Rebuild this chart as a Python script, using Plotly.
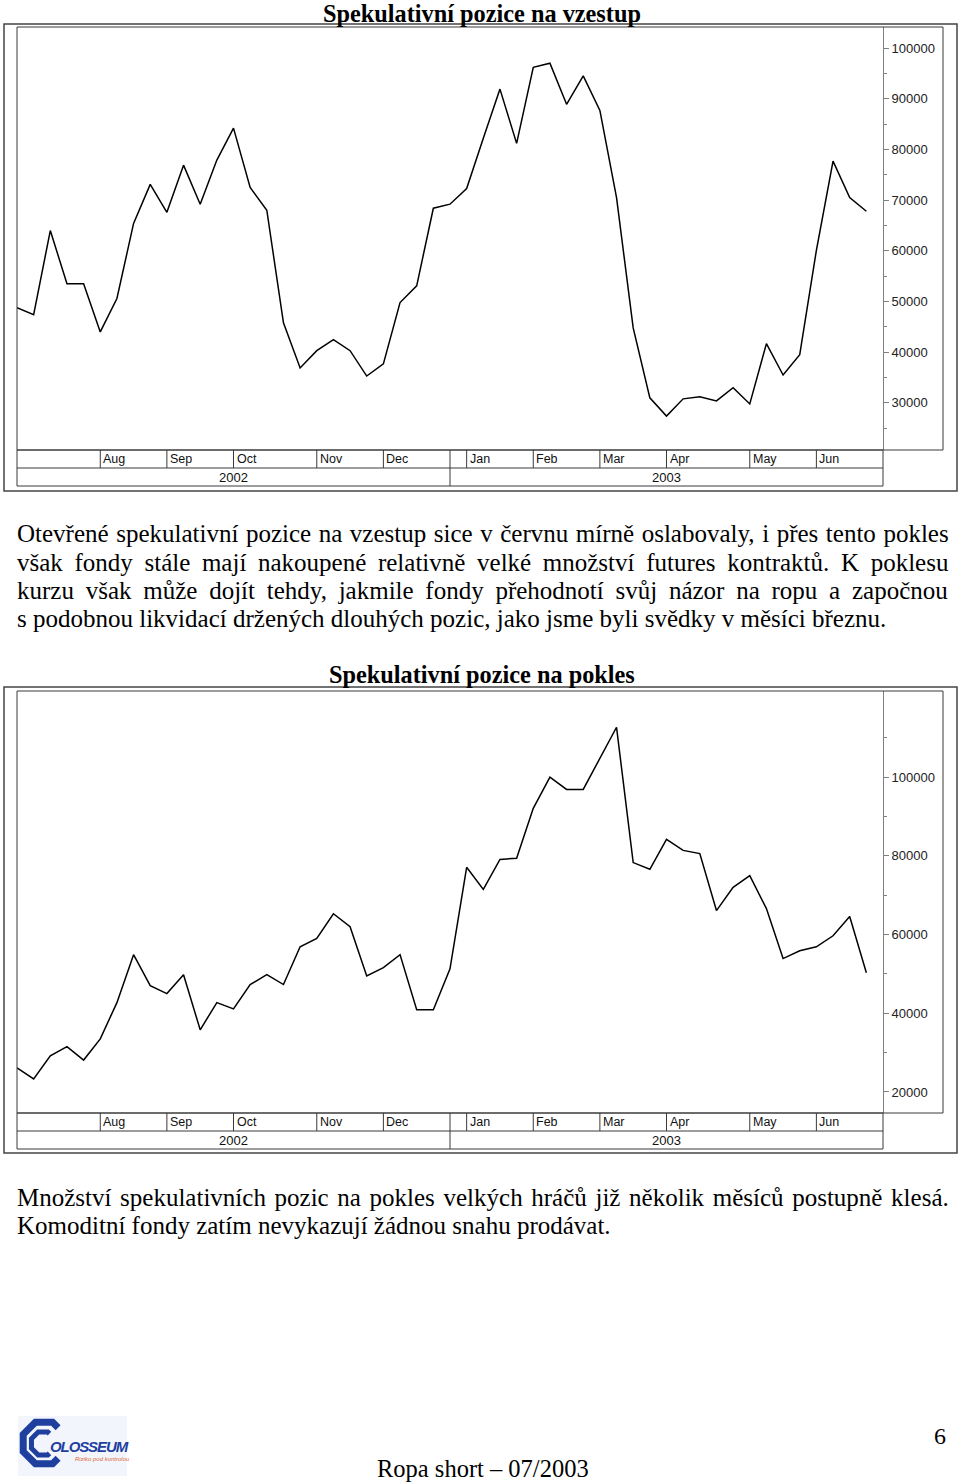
import math
import pandas as pd
import plotly.graph_objects as go

W, H = 960, 1482

# ---------------- data ----------------
weeks = pd.date_range("2002-07-02", periods=52, freq="7D")

long_positions = [48800, 47400, 64000, 53500, 53500, 44000, 50600, 65400, 73100, 67600,
                  76900, 69200, 77900, 84200, 72500, 68000, 45800, 36900, 40300, 42500,
                  40300, 35300, 37700, 49800, 53100, 68400, 69200, 72300, 82200, 91900,
                  81200, 96200, 97000, 88900, 94500, 87700, 70500, 44800, 31000, 27400,
                  30800, 31200, 30400, 33000, 29800, 41700, 35500, 39500, 60100, 77700,
                  70500, 67800]

short_positions = [26100, 23300, 29200, 31500, 28100, 33500, 42700, 54900, 47000, 45000,
                   49800, 35800, 42700, 41100, 47300, 49800, 47300, 56900, 59000, 65300,
                   62000, 49500, 51600, 54900, 40900, 40900, 51300, 77100, 71500, 79100,
                   79400, 92100, 100000, 96900, 96900, 104800, 112700, 78300, 76600, 84200,
                   81400, 80600, 66100, 72000, 75000, 66600, 53900, 55900, 56900, 59700,
                   64600, 50300]

month_labels = ["Aug", "Sep", "Oct", "Nov", "Dec", "Jan", "Feb", "Mar", "Apr", "May", "Jun"]
year_labels = ["2002", "2003"]
year_split = pd.Timestamp("2002-12-31")

ticks_long = [30000, 40000, 50000, 60000, 70000, 80000, 90000, 100000]
minor_long = [25000, 35000, 45000, 55000, 65000, 75000, 85000, 95000]
ticks_short = [20000, 40000, 60000, 80000, 100000]
minor_short = [30000, 50000, 70000, 90000, 110000]

title_long = "Spekulativní pozice na vzestup"
title_short = "Spekulativní pozice na pokles"

para1 = [
    "Otevřené spekulativní pozice na vzestup sice v červnu mírně oslabovaly, i přes tento pokles",
    "však fondy stále mají nakoupené relativně velké množství futures kontraktů. K poklesu",
    "kurzu však může dojít tehdy, jakmile fondy přehodnotí svůj názor na ropu a započnou",
    "s podobnou likvidací držených dlouhých pozic, jako jsme byli svědky v měsíci březnu.",
]
para2 = [
    "Množství spekulativních pozic na pokles velkých hráčů již několik měsíců postupně klesá.",
    "Komoditní fondy zatím nevykazují žádnou snahu prodávat.",
]
# extra word spacing (px) used to justify full lines
para1_spacing = [1.3, 5.4, 5.5, 0]
para2_spacing = [2.4, 0]

footer_text = "Ropa short – 07/2003"
page_number = "6"
logo_name = "OLOSSEUM"
logo_motto = "Riziko pod kontrolou"

# ---------------- helpers ----------------
def fx(px):
    return px / W


def fy(py):
    return 1 - py / H


x_start = weeks[0]
x_end = weeks[0] + pd.Timedelta(weeks=52)
month_starts = []
seen = set()
for d in weeks:
    key = (d.year, d.month)
    if key not in seen:
        seen.add(key)
        month_starts.append(d)
month_starts = month_starts[1:]  # first (July) segment carries no label

shapes = []
annotations = []
FRAME = "#3a3a3a"


def rect(x0, y0, x1, y1, color=FRAME, width=1, fill=None):
    shapes.append(dict(type="rect", xref="paper", yref="paper",
                       x0=fx(x0), x1=fx(x1), y0=fy(y0), y1=fy(y1),
                       line=dict(color=color, width=width),
                       fillcolor=fill if fill else "rgba(0,0,0,0)", layer="above"))


def hline(x0, x1, y, color=FRAME, width=1):
    shapes.append(dict(type="line", xref="paper", yref="paper",
                       x0=fx(x0), x1=fx(x1), y0=fy(y), y1=fy(y),
                       line=dict(color=color, width=width), layer="above"))


def chart_frame(xname, top_outer, top_inner, plot_bottom, bottom_outer):
    row_mid = plot_bottom + 18
    row_bot = plot_bottom + 36
    rect(4, top_outer, 957, bottom_outer, color="#444", width=1.5)
    rect(17, top_inner, 943, plot_bottom, color=FRAME, width=1)
    # time-axis boxes
    rect(17, plot_bottom, 883, row_bot, color=FRAME, width=1)
    hline(17, 883, row_mid)
    for d, lab in zip(month_starts, month_labels):
        shapes.append(dict(type="line", xref=xname, yref="paper", x0=d, x1=d,
                           y0=fy(plot_bottom), y1=fy(row_mid),
                           line=dict(color=FRAME, width=1), layer="above"))
        annotations.append(dict(x=d, xref=xname, y=fy((plot_bottom + row_mid) / 2), yref="paper",
                                text=lab, showarrow=False, xanchor="left", yanchor="middle",
                                xshift=1,
                                font=dict(family="Liberation Sans, Arial", size=12.5, color="#111")))
    shapes.append(dict(type="line", xref=xname, yref="paper", x0=year_split, x1=year_split,
                       y0=fy(plot_bottom), y1=fy(row_bot),
                       line=dict(color=FRAME, width=1), layer="above"))
    mids = [x_start + (year_split - x_start) / 2, year_split + (x_end - year_split) / 2]
    for m, lab in zip(mids, year_labels):
        annotations.append(dict(x=m, xref=xname, y=fy((row_mid + row_bot) / 2), yref="paper",
                                text=lab, showarrow=False, xanchor="center", yanchor="middle",
                                font=dict(family="Liberation Sans, Arial", size=13, color="#111")))


chart_frame("x", 24, 27, 450, 491)
chart_frame("x2", 687, 691, 1113, 1153)

# titles
SERIF = "Liberation Serif, Times New Roman, serif"
for t, y in [(title_long, 13.5), (title_short, 674)]:
    annotations.append(dict(x=fx(481.5), y=fy(y), xref="paper", yref="paper", text="<b>" + t + "</b>",
                            showarrow=False, xanchor="center", yanchor="middle",
                            font=dict(family=SERIF, size=24.3, color="black")))


def text_line(line, x, y, spacing, size=25):
    txt = line if not spacing else f'<span style="word-spacing:{spacing}px">{line}</span>'
    annotations.append(dict(x=fx(x), y=fy(y), xref="paper", yref="paper", text=txt,
                            showarrow=False, xanchor="left", yanchor="middle",
                            font=dict(family=SERIF, size=size, color="black")))


for i, (line, sp) in enumerate(zip(para1, para1_spacing)):
    text_line(line, 15, 534 + 28 * i, sp)
for i, (line, sp) in enumerate(zip(para2, para2_spacing)):
    text_line(line, 15, 1197 + 28 * i, sp)

# footer
annotations.append(dict(x=fx(375), y=fy(1468), xref="paper", yref="paper", text=footer_text,
                        showarrow=False, xanchor="left", yanchor="middle",
                        font=dict(family=SERIF, size=24.5, color="black")))
annotations.append(dict(x=fx(948), y=fy(1436), xref="paper", yref="paper", text=page_number,
                        showarrow=False, xanchor="right", yanchor="middle",
                        font=dict(family=SERIF, size=24, color="black")))

# logo
BLUE = "#1f3f9f"
rect(18, 1416, 127, 1476, color="rgba(0,0,0,0)", width=0, fill="#f2f5fb")


def oct_c(cx, cy, r, width, t):
    """Octagonal 'C' open to the right; t = how far the arms reach along the diagonal edge."""
    def vert(a):
        return (cx + r * math.cos(math.radians(a)), cy - r * math.sin(math.radians(a)))
    v22, v67 = vert(22.5), vert(67.5)
    v337, v292 = vert(-22.5), vert(292.5)
    start = (v67[0] + (v22[0] - v67[0]) * t, v67[1] + (v22[1] - v67[1]) * t)
    end = (v292[0] + (v337[0] - v292[0]) * t, v292[1] + (v337[1] - v292[1]) * t)
    pts = [start] + [vert(a) for a in (67.5, 112.5, 157.5, 202.5, 247.5, 292.5)] + [end]
    path = "M " + " L ".join(f"{fx(x):.5f} {fy(y):.5f}" for x, y in pts)
    shapes.append(dict(type="path", xref="paper", yref="paper", path=path,
                       line=dict(color=BLUE, width=width), layer="above"))


oct_c(44, 1443, 22.5, 7, 0.45)
oct_c(43, 1443.5, 12.5, 5, 0.25)
annotations.append(dict(x=fx(48), y=fy(1446), xref="paper", yref="paper",
                        text=f'<span style="letter-spacing:-1.1px"><b><i>{logo_name}</i></b></span>',
                        showarrow=False, xanchor="left", yanchor="middle",
                        font=dict(family="Liberation Sans, Arial", size=15, color=BLUE)))
annotations.append(dict(x=fx(73), y=fy(1459), xref="paper", yref="paper", text=f"<i>{logo_motto}</i>",
                        showarrow=False, xanchor="left", yanchor="middle",
                        font=dict(family="Liberation Sans, Arial", size=6, color="#d8683a")))

# ---------------- figure ----------------
fig = go.Figure()
fig.add_trace(go.Scatter(x=weeks, y=long_positions, mode="lines", xaxis="x", yaxis="y",
                         line=dict(color="black", width=1.5), hoverinfo="skip", showlegend=False))
fig.add_trace(go.Scatter(x=weeks, y=short_positions, mode="lines", xaxis="x2", yaxis="y2",
                         line=dict(color="black", width=1.5), hoverinfo="skip", showlegend=False))

xcommon = dict(range=[x_start, x_end], showticklabels=False, showgrid=False, zeroline=False,
               showline=False, ticks="", domain=[fx(17), fx(883)], fixedrange=True)
ycommon = dict(side="right", tickmode="array", tickformat="d", ticks="outside", ticklen=5,
               tickcolor="#808080", showline=True, linecolor="#808080", linewidth=1,
               showgrid=False, zeroline=False, fixedrange=True,
               tickfont=dict(family="Liberation Sans, Arial", size=13, color="#222"))

fig.update_layout(
    width=W, height=H, margin=dict(l=0, r=0, t=0, b=0),
    paper_bgcolor="white", plot_bgcolor="white", showlegend=False,
    xaxis=dict(**xcommon, anchor="y"),
    xaxis2=dict(**xcommon, anchor="y2"),
    yaxis=dict(**ycommon, anchor="x", domain=[fy(450), fy(27)], range=[20710, 104150],
               tickvals=ticks_long,
               minor=dict(tickmode="array", tickvals=minor_long, ticks="outside", ticklen=3,
                          tickcolor="#808080")),
    yaxis2=dict(**ycommon, anchor="x2", domain=[fy(1113), fy(691)], range=[14650, 121910],
                tickvals=ticks_short,
                minor=dict(tickmode="array", tickvals=minor_short, ticks="outside", ticklen=3,
                           tickcolor="#808080")),
    shapes=shapes, annotations=annotations,
)

fig.write_html("out.html", config={"displayModeBar": False},
               post_script="document.body.style.margin='0';document.body.style.overflow='hidden';")
